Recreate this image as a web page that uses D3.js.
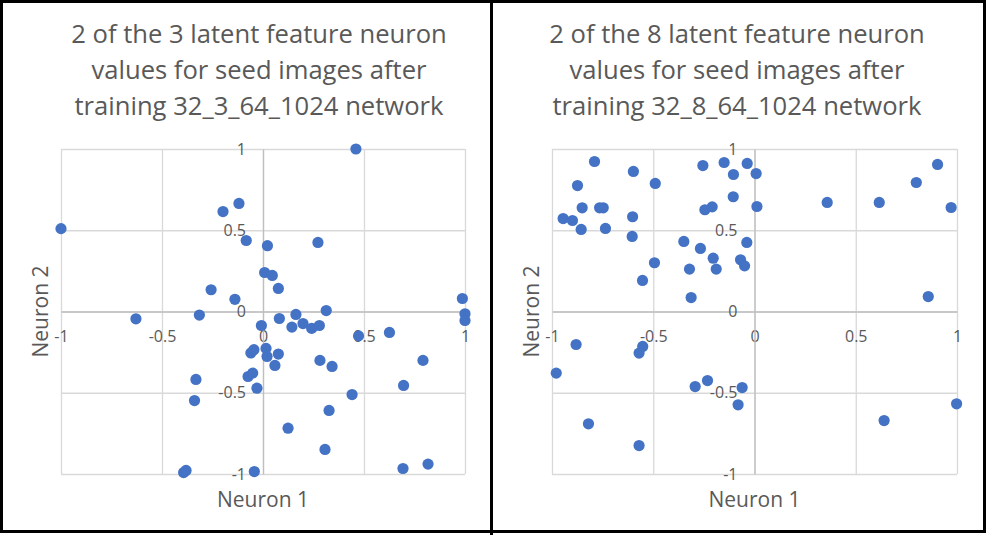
<!DOCTYPE html>
<html>
<head>
<meta charset="utf-8">
<script src="https://cdn.jsdelivr.net/npm/d3@7"></script>
<style>
    body { margin: 0; background: #fff; }
    text { font-family: "Open Sans", sans-serif; fill: #595959; }
</style>
</head>
<body>
<div id="chart"></div>
<script>
// Tick values shared by both charts
const ticks = [-1, -0.5, 0, 0.5, 1];

// Chart 1: 32_3_64_1024 network
const titleA = ["2 of the 3 latent feature neuron", "values for seed images after", "training 32_3_64_1024 network"];
const neuron1A = [-1, -0.198, -0.119, -0.083, 0.022, 0.008, -0.257, -0.139, 0.46, 0.272,
    0.046, 0.076, 0.987, 1.0, 1.0, -0.008, 0.081, 0.163, 0.313, 0.143,
    0.198, 0.241, 0.279, 0.473, 0.626, -0.06, -0.045, 0.015, 0.02, 0.076,
    0.059, 0.282, 0.342, 0.792, -0.074, -0.051, -0.03, 0.696, 0.441, 0.327,
    0.124, 0.307, -0.043, 0.693, 0.817, -0.629, -0.315, -0.332, -0.339, -0.393, -0.381];
const neuron2A = [0.51, 0.615, 0.665, 0.437, 0.405, 0.24, 0.134, 0.075, 1.0, 0.425,
    0.222, 0.142, 0.08, -0.014, -0.055, -0.086, -0.043, -0.018, 0.006, -0.096,
    -0.074, -0.104, -0.086, -0.15, -0.129, -0.255, -0.235, -0.227, -0.277, -0.262,
    -0.332, -0.301, -0.338, -0.301, -0.4, -0.379, -0.472, -0.455, -0.511, -0.609,
    -0.718, -0.849, -0.985, -0.966, -0.939, -0.045, -0.022, -0.418, -0.548, -0.991, -0.978];

// Chart 2: 32_8_64_1024 network
const titleB = ["2 of the 8 latent feature neuron", "values for seed images after", "training 32_8_64_1024 network"];
const neuron1B = [-0.79, -0.598, -0.49, -0.874, -0.851, -0.765, -0.747, -0.945, -0.899, -0.856,
    -0.736, -0.602, -0.604, -0.255, -0.15, -0.036, -0.104, 0.008, -0.105, -0.245,
    -0.209, 0.012, -0.349, -0.267, -0.204, -0.038, -0.069, -0.049, -0.189, -0.321,
    -0.494, -0.553, -0.313, 0.359, 0.616, 0.799, 0.904, 0.971, 0.858, -0.881,
    -0.552, -0.57, -0.979, -0.293, -0.232, -0.061, -0.081, -0.82, -0.57, 0.998, 0.64];
const neuron2B = [0.923, 0.862, 0.788, 0.775, 0.638, 0.638, 0.638, 0.572, 0.56, 0.505,
    0.511, 0.583, 0.462, 0.898, 0.917, 0.911, 0.843, 0.849, 0.706, 0.626,
    0.644, 0.646, 0.431, 0.388, 0.328, 0.425, 0.318, 0.281, 0.261, 0.261,
    0.3, 0.191, 0.086, 0.671, 0.671, 0.794, 0.905, 0.64, 0.092, -0.203,
    -0.215, -0.256, -0.379, -0.462, -0.425, -0.468, -0.574, -0.691, -0.825, -0.568, -0.671];

const W = 986, H = 535;
const svg = d3.select("#chart")
    .append("svg")
    .attr("width", W)
    .attr("height", H);

drawPanel({ x0: 61, x1: 465, titleX: 259, title: titleA, xs: neuron1A, ys: neuron2A });
drawPanel({ x0: 552, x1: 957, titleX: 737, title: titleB, xs: neuron1B, ys: neuron2B });

// Frame around both charts and the divider
svg.append("rect")
    .attr("x", 1.5).attr("y", 1.5)
    .attr("width", W - 3).attr("height", H - 5)
    .attr("fill", "none")
    .attr("stroke", "#000")
    .attr("stroke-width", 3);
svg.append("line")
    .attr("x1", 491.5).attr("x2", 491.5)
    .attr("y1", 0).attr("y2", H)
    .attr("stroke", "#000")
    .attr("stroke-width", 3);

function drawPanel(cfg) {
    const top = 149, bottom = 474;
    const g = svg.append("g");

    const x = d3.scaleLinear().domain([-1, 1]).range([cfg.x0, cfg.x1]);
    const y = d3.scaleLinear().domain([-1, 1]).range([bottom, top]);

    // Gridlines
    g.append("g")
        .attr("transform", `translate(0,${bottom})`)
        .call(d3.axisBottom(x).tickValues(ticks).tickSize(-(bottom - top)).tickFormat(""))
        .call(s => s.select(".domain").remove())
        .call(s => s.selectAll("line").attr("stroke", "#d9d9d9").attr("stroke-width", 1.3));
    g.append("g")
        .attr("transform", `translate(${cfg.x0},0)`)
        .call(d3.axisLeft(y).tickValues(ticks).tickSize(-(cfg.x1 - cfg.x0)).tickFormat(""))
        .call(s => s.select(".domain").remove())
        .call(s => s.selectAll("line").attr("stroke", "#d9d9d9").attr("stroke-width", 1.3));

    // Axes crossing at zero
    const xAxis = g.append("g")
        .attr("transform", `translate(0,${y(0)})`)
        .call(d3.axisBottom(x).tickValues(ticks).tickSize(0).tickPadding(19.5).tickFormat(d => String(d)));
    const yAxis = g.append("g")
        .attr("transform", `translate(${x(0)},0)`)
        .call(d3.axisLeft(y).tickValues(ticks).tickSize(0).tickPadding(17).tickFormat(d => String(d)));
    [xAxis, yAxis].forEach(a => {
        a.select(".domain").attr("stroke", "#bfbfbf").attr("stroke-width", 1.3);
        a.selectAll("text")
            .attr("fill", "#595959")
            .style("font-family", "'Open Sans', sans-serif")
            .style("font-size", "16px");
    });

    // Title
    g.append("text")
        .attr("text-anchor", "middle")
        .style("font-size", "25.6px")
        .selectAll("tspan")
        .data(cfg.title)
        .enter().append("tspan")
        .attr("x", cfg.titleX)
        .attr("y", (d, i) => 43 + i * 36)
        .text(d => d);

    // Axis titles
    g.append("text")
        .attr("text-anchor", "middle")
        .attr("x", (cfg.x0 + cfg.x1) / 2)
        .attr("y", 507)
        .style("font-size", "21px")
        .text("Neuron 1");
    g.append("text")
        .attr("text-anchor", "middle")
        .attr("transform", `translate(${cfg.x0 - 13},${(top + bottom) / 2}) rotate(-90)`)
        .style("font-size", "21px")
        .text("Neuron 2");

    // Points
    g.selectAll(".dot")
        .data(cfg.xs.map((v, i) => [v, cfg.ys[i]]))
        .enter().append("circle")
        .attr("class", "dot")
        .attr("cx", d => x(d[0]))
        .attr("cy", d => y(d[1]))
        .attr("r", 5.6)
        .style("fill", "#4472c4");
}
</script>
</body>
</html>
